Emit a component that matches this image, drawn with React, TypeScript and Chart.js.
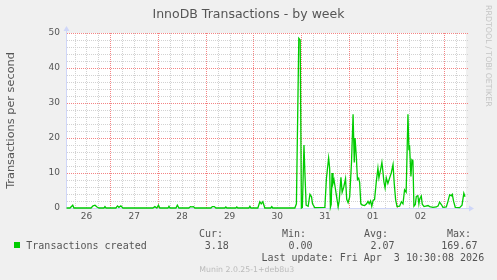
import { useEffect, useRef } from "react";
import { Chart, registerables } from "chart.js";

Chart.register(...registerables);

// ---- text ----
const TITLE = "InnoDB Transactions - by week";
const Y_TITLE = "Transactions per second";
const SERIES_LABEL = "Transactions created";
const WATERMARK = "RRDTOOL / TOBI OETIKER";
const LAST_UPDATE = "Last update: Fri Apr  3 10:30:08 2026";
const VERSION = "Munin 2.0.25-1+deb8u3";
const STAT_HEADERS = ["Cur:", "Min:", "Avg:", "Max:"];
const STAT_VALUES = ["3.18", "0.00", "2.07", "169.67"];

// ---- axes (x = hours since Mar 26 00:00) ----
const X_MIN = 1.7;
const X_MAX = 202.9;
const DAY_TICK_HOURS = [12, 36, 60, 84, 108, 132, 156, 180];
const DAY_TICK_LABELS = ["26", "27", "28", "29", "30", "31", "01", "02"];
const Y_TICKS = [0, 10, 20, 30, 40, 50];

// ---- series ----
const HOURS = [
  2.0, 3.7, 5.1, 5.7, 14.3, 15.3, 16.3, 17.3, 18.3, 20.8, 21.3, 21.8, 26.8, 27.6, 28.3, 29.3, 30.3,
  45.4, 46.4, 47.4, 48.2, 48.9, 53.0, 53.5, 54.0, 57.0, 57.7, 58.5, 63.5, 64.3, 65.0, 65.8, 66.5,
  74.6, 75.3, 76.3, 77.1, 81.6, 82.1, 82.6, 87.1, 87.6, 88.1, 93.7, 94.2, 94.7, 98.2, 99.2, 99.9,
  100.7, 101.7, 104.7, 105.2, 105.7, 116.8,
  117.6, 118.8, 119.5, 120.1, 120.6, 121.4, 121.9, 122.5, 123.5, 124.4, 125.2, 125.7, 126.8,
  131.9, 132.7, 133.8, 134.3, 134.7, 135.1, 135.5, 136.0, 136.5, 137.2, 137.9, 138.6, 139.1,
  140.0, 140.6, 141.4, 142.3, 142.9, 143.6, 144.4, 145.3, 146.1, 146.7, 147.1, 147.7, 148.3,
  148.9, 149.4, 150.0, 150.9, 151.9, 152.9, 153.6, 154.2, 154.9, 155.5, 156.2, 156.9, 157.8,
  158.6, 159.1, 159.8, 160.6, 161.1, 161.6, 162.2, 162.8, 163.6, 164.5, 165.3, 166.2, 166.8,
  167.5, 168.2, 169.5, 170.4, 171.2, 172.0, 172.8, 173.7, 174.2, 174.5, 175.2, 175.7, 176.2,
  176.7, 177.4, 177.9, 178.7, 179.2, 179.6, 180.4, 180.9, 181.8, 183.8, 184.6, 186.3, 188.0,
  188.9, 189.6, 190.5, 191.3, 193.0, 193.8, 194.7, 195.5, 196.0, 196.7, 197.5, 199.7, 200.9,
  201.8, 202.4,
];
const VALUES = [
  0, 0, 0.8, 0, 0, 0.6, 0.8, 0.3, 0, 0, 0.4, 0, 0, 0.6, 0.2, 0.6, 0,
  0, 0.4, 0, 0.8, 0, 0, 0.5, 0, 0, 0.8, 0, 0, 0.4, 0.3, 0.4, 0,
  0, 0.4, 0.4, 0, 0, 0.3, 0, 0, 0.3, 0, 0, 0.5, 0, 0, 1.8, 1.2,
  1.8, 0, 0, 0.4, 0, 0,
  1.2, 48.5, 48, 0, 0.2, 18, 9.5, 0.8, 0.5, 3.9, 3.2, 1.2, 0.1,
  0.2, 8.5, 14.3, 11.5, 0.2, 1, 10, 7, 8.1, 5.5, 2.9, 0.3, 2,
  8.8, 4.5, 6, 8.4, 2.5, 1.5, 3.2, 13, 26.8, 13, 20, 15, 8.1,
  8.5, 7.3, 1.2, 0.8, 0.7, 1.2, 1.9, 1.2, 2.0, 0.5, 2.2, 2.4, 7.6,
  11.4, 8.6, 10.5, 13, 10.5, 7.5, 5.7, 8.6, 7, 8.6, 10, 12.4, 7,
  2.4, 0.4, 0.5, 1.8, 1.2, 5.2, 4.5, 26.8, 16.5, 18, 9, 13.8, 13.5,
  0.5, 1, 3.3, 3.5, 1.2, 2.6, 3.4, 1.1, 0.4, 0.7, 0.4, 0.2, 0.3,
  0.6, 1.7, 1, 0.2, 0.3, 1.8, 3.8, 3.5, 3.9, 1.8, 0.2, 0.1, 0.8,
  4.2, 3.2,
];

// ---- style ----
const BG = "#F0F0F0";
const TEXT = "#555555";
const LINE = "#00CC00";
const AXIS = "#CFD6F8";
const GRID_MINOR = "#D2D2D2";
const GRID_MAJOR = "#F48484";
const GRID_MINOR_HOURS = 6;
const GRID_MAJOR_HOURS = 24;
const GRID_MINOR_Y = 2;
const GRID_MAJOR_Y = 10;
const SANS = "'DejaVu Sans', sans-serif";
const MONO = "'DejaVu Sans Mono', monospace";

const muninPlugin = {
  id: "munin",
  beforeDraw(chart: any) {
    const { ctx, chartArea: a } = chart;
    ctx.save();
    ctx.fillStyle = BG;
    ctx.fillRect(0, 0, chart.width, chart.height);
    ctx.fillStyle = "#FFFFFF";
    ctx.fillRect(a.left, a.top, a.right - a.left, a.bottom - a.top);
    ctx.restore();
  },
  beforeDatasetsDraw(chart: any) {
    const { ctx, chartArea: a } = chart;
    const xs = chart.scales.x;
    const ys = chart.scales.y;
    const L = Math.round(a.left);
    const R = Math.round(a.right);
    const T = Math.round(a.top);
    const B = Math.round(a.bottom);
    ctx.save();
    const drawV = (major: boolean) => {
      for (let h = Math.ceil(X_MIN / GRID_MINOR_HOURS) * GRID_MINOR_HOURS; h <= X_MAX; h += GRID_MINOR_HOURS) {
        const isMajor = h % GRID_MAJOR_HOURS === 0;
        if (isMajor !== major) continue;
        const px = Math.round(xs.getPixelForValue(h));
        ctx.fillStyle = isMajor ? GRID_MAJOR : GRID_MINOR;
        for (let y = T; y < B; y += 2) ctx.fillRect(px, y, 1, 1);
      }
    };
    const drawH = (major: boolean) => {
      for (let v = GRID_MINOR_Y; v <= ys.max; v += GRID_MINOR_Y) {
        const isMajor = v % GRID_MAJOR_Y === 0;
        if (isMajor !== major) continue;
        const py = Math.round(ys.getPixelForValue(v));
        ctx.fillStyle = isMajor ? GRID_MAJOR : GRID_MINOR;
        for (let x = L + 1; x <= R + 1; x += 2) ctx.fillRect(x, py, 1, 1);
      }
    };
    drawV(false);
    drawH(false);
    drawV(true);
    drawH(true);
    // axes with arrows
    ctx.fillStyle = AXIS;
    ctx.fillRect(L, T - 3, 1, B - T + 4);
    ctx.fillRect(L, B, R - L + 4, 1);
    ctx.beginPath();
    ctx.moveTo(L + 0.5, T - 7);
    ctx.lineTo(L - 2.5, T - 2);
    ctx.lineTo(L + 3.5, T - 2);
    ctx.closePath();
    ctx.fill();
    ctx.beginPath();
    ctx.moveTo(R + 8, B + 0.5);
    ctx.lineTo(R + 3, B - 2.5);
    ctx.lineTo(R + 3, B + 3.5);
    ctx.closePath();
    ctx.fill();
    ctx.restore();
  },
  afterDraw(chart: any) {
    const { ctx } = chart;
    ctx.save();
    ctx.textBaseline = "alphabetic";
    // title
    ctx.fillStyle = TEXT;
    ctx.font = `12.5px ${SANS}`;
    ctx.textAlign = "center";
    ctx.fillText(TITLE, 248.5, 18);
    // watermark
    ctx.save();
    ctx.fillStyle = "#C4C4C4";
    ctx.font = `7.9px ${SANS}`;
    ctx.textAlign = "left";
    ctx.translate(486, 5);
    ctx.rotate(Math.PI / 2);
    ctx.fillText(WATERMARK, 0, 0);
    ctx.restore();
    // legend
    ctx.textAlign = "left";
    ctx.fillStyle = LINE;
    ctx.fillRect(14, 242, 6, 6);
    ctx.fillStyle = TEXT;
    ctx.font = `10px ${MONO}`;
    ctx.fillText(SERIES_LABEL, 26.3, 249);
    const headerX = [199, 282, 364, 447];
    const valueX = [204.7, 288.4, 370.4, 441.3];
    STAT_HEADERS.forEach((t, i) => ctx.fillText(t, headerX[i], 237));
    STAT_VALUES.forEach((t, i) => ctx.fillText(t, valueX[i], 249));
    ctx.fillText(LAST_UPDATE, 261.4, 261);
    ctx.fillStyle = "#BBBBBB";
    ctx.font = `7.8px ${SANS}`;
    ctx.fillText(VERSION, 199.3, 272);
    ctx.restore();
  },
};

export default function App() {
  const canvasRef = useRef<HTMLCanvasElement | null>(null);

  useEffect(() => {
    const canvas = canvasRef.current;
    if (!canvas) return;
    const chart = new Chart(canvas, {
      type: "line",
      data: {
        datasets: [
          {
            label: SERIES_LABEL,
            data: HOURS.map((h, i) => ({ x: h, y: VALUES[i] })),
            borderColor: LINE,
            borderWidth: 1.3,
            pointRadius: 0,
            tension: 0,
            fill: false,
            clip: false,
          } as any,
        ],
      },
      options: {
        responsive: false,
        animation: false,
        devicePixelRatio: 1,
        layout: { padding: { left: 0, top: 33, right: 31, bottom: 0 } },
        plugins: {
          legend: { display: false },
          tooltip: { enabled: false },
          title: { display: false },
        },
        scales: {
          x: {
            type: "linear",
            min: X_MIN,
            max: X_MAX,
            grid: { display: false, drawTicks: false },
            border: { display: false },
            afterBuildTicks: (s: any) => {
              s.ticks = DAY_TICK_HOURS.map((v) => ({ value: v }));
            },
            afterFit: (s: any) => {
              s.height = 72;
            },
            ticks: {
              autoSkip: false,
              maxRotation: 0,
              padding: 3,
              color: TEXT,
              font: { family: SANS, size: 9 },
              callback: (_v: any, i: number) => DAY_TICK_LABELS[i],
            },
          },
          y: {
            type: "linear",
            min: 0,
            max: 50,
            grid: { display: false, drawTicks: false },
            border: { display: false },
            afterBuildTicks: (s: any) => {
              s.ticks = Y_TICKS.map((v) => ({ value: v }));
            },
            afterFit: (s: any) => {
              s.width = 66;
            },
            ticks: {
              padding: 6,
              color: TEXT,
              font: { family: SANS, size: 9 },
            },
            title: {
              display: true,
              text: Y_TITLE,
              color: TEXT,
              font: { family: SANS, size: 11.3 },
              padding: { top: 4, bottom: 0 },
            },
          },
        },
      } as any,
      plugins: [muninPlugin],
    });
    return () => chart.destroy();
  }, []);

  return (
    <div style={{ position: "fixed", left: 0, top: 0, width: 497, height: 280 }}>
      <canvas ref={canvasRef} width={497} height={280} style={{ display: "block" }} />
    </div>
  );
}
